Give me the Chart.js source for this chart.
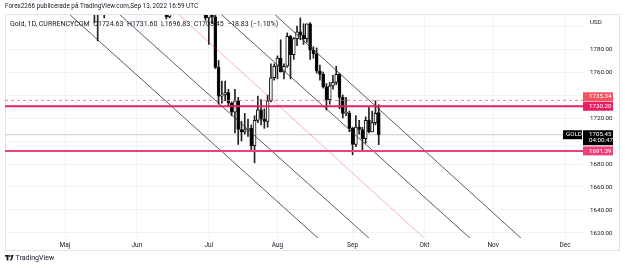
<!DOCTYPE html>
<html>
<head>
<meta charset="utf-8">
<script src="https://cdn.jsdelivr.net/npm/chart.js@4.4.0/dist/chart.umd.min.js"></script>
<style>
  body { margin: 0; background: #fff; font-family: Roboto, sans-serif; color: #131722; }
  #wrap { position: relative; width: 625px; height: 270px; overflow: hidden; }
  canvas { position: absolute; left: 0; top: 0; }
  .txt { position: absolute; white-space: nowrap; font-size: 6.4px; line-height: 8px; }
  #legend { font-size: 7px; }
  #legend span { margin-right: 3.5px; }
</style>
</head>
<body>
<div id="wrap">
  <canvas id="chart" width="625" height="270"></canvas>
  <div class="txt" style="left:5px; top:2px;">Forex2266 publicerade på TradingView.com,Sep 13, 2022 16:59 UTC</div>
  <div class="txt" id="legend" style="left:10px; top:20px;">
    <span>Gold, 1D, CURRENCYCOM</span><span>O1724.63</span><span>H1731.60</span><span>L1696.83</span><span>C1705.45</span><span>−18.83 (−1.10%)</span>
  </div>
  <div class="txt" style="left:5px; top:254px; font-size:7px;">
    <svg width="9" height="6" viewBox="0 0 9 6" style="vertical-align:-1px"><rect x="0" y="0" width="3.6" height="1.6" fill="#131722"/><rect x="1.6" y="0" width="1.8" height="5.5" fill="#131722"/><circle cx="4.6" cy="1" r="0.9" fill="#131722"/><polygon points="6,0 8.6,0 6.6,5.5 5,5.5 6.2,2.2" fill="#131722"/></svg>
    TradingView
  </div>
</div>
<script>
// trading days 2022-05-02 .. 2022-09-13 (index 0 = 2 May)
var open = [1896,1862,1868,1881,1876,1883,1854,1838,1852,1822,1811,1824,1815,1816,1842,1846,1853,1866,1853,1851,1853,1855,
  1837,1847,1869,1851,1841,1852,1853,1848,1871,1819,1808,1834,1850,1840,1839,1832,1838,1823,1827,1823,1820,1817,
  1807,1811,1808,1764,1739,1740,1742,1733,1725,1735,1710,1708,1710,1711,1696,1718,1727,1719,1717,1735,1755,
  1765,1772,1760,1765,1791,1775,1789,1795,1792,1789,1802,1779,1776,1761,1758,1747,1736,1748,1751,1758,1738,1724,1724,
  1711,1697,1712,1710,1702,1718,1708,1716,1724.63];
var high = [1896,1873,1884,1909,1889,1886,1859,1858,1858,1826,1825,1836,1823,1849,1849,1865,1869,1868,1858,1858,1860,1857,
  1849,1874,1874,1857,1856,1860,1857,1876,1878,1833,1842,1857,1857,1846,1847,1847,1840,1831,1834,1830,1829,1829,
  1813,1815,1812,1770,1752,1752,1745,1734,1745,1738,1717,1724,1719,1714,1722,1739,1736,1728,1740,1767,1767,
  1774,1788,1767,1794,1792,1790,1800,1807,1802,1802,1803,1782,1781,1766,1760,1750,1751,1757,1765,1759,1740,1738,1726,
  1712,1722,1718,1712,1721,1729,1726,1735,1731.60];
var low = [1850,1850,1865,1867,1872,1850,1832,1836,1812,1803,1787,1811,1807,1813,1835,1842,1849,1845,1844,1846,1850,1831,
  1828,1844,1848,1836,1837,1845,1843,1826,1815,1806,1807,1812,1832,1834,1830,1827,1818,1817,1820,1818,1814,1805,
  1784,1802,1763,1732,1733,1735,1730,1722,1707,1697,1700,1706,1704,1692,1681,1716,1714,1711,1712,1734,1753,
  1754,1760,1754,1764,1754,1771,1783,1788,1784,1786,1771,1772,1759,1753,1746,1727,1732,1745,1749,1728,1720,1722,1708,
  1688,1695,1706,1691,1698,1707,1708,1714,1696.83];
var close = [1862,1868,1881,1876,1883,1854,1838,1852,1822,1811,1824,1815,1816,1842,1846,1853,1866,1853,1851,1853,1855,1837,
  1847,1869,1851,1841,1852,1853,1848,1871,1819,1808,1834,1850,1840,1839,1832,1838,1823,1827,1823,1820,1817,1807,
  1811,1808,1764,1739,1739,1742,1733,1725,1735,1710,1708,1710,1711,1696,1718,1727,1719,1717,1735,1755,1765,
  1772,1760,1765,1791,1775,1789,1795,1792,1789,1802,1779,1776,1761,1758,1747,1736,1748,1751,1758,1738,1724,1724,1711,
  1697,1712,1710,1702,1718,1708,1716,1724,1705.45];

var monthIdx = [0, 22, 44, 65, 88, 110, 131, 153];
var monthLabels = ['Maj', 'Jun', 'Jul', 'Aug', 'Sep', 'Okt', 'Nov', 'Dec'];
var priceTicks = [1620, 1640, 1660, 1680, 1700, 1720, 1740, 1760, 1780, 1800];
var hiddenTicks = [1700, 1740, 1800];

// horizontal levels: alert/dashed, resistance, last price, support
var levelValues = [1735.34, 1730.20, 1705.45, 1691.39];

// trend lines in (bar index, price)
var trendX0 = [0.9, 16.2, 47.7, 64.0];
var trendX1 = [77.7, 93.3, 124.2, 139.8];
var trendY0 = [1811.3, 1811.3, 1810.4, 1810.4];
var trendY1 = [1614.8, 1614.8, 1614.8, 1614.8];
var pinkLine = [[34.6, 1810.4], [110.5, 1613.9]];

var xMin = -18.36, xMax = 158.5;
var yMin = 1615.65, yMax = 1809.57;

var bodies = open.map(function (o, i) { return { x: i, y: [o, close[i]] }; });
var wicks = open.map(function (o, i) { return { x: i, y: [low[i], high[i]] }; });
var bodyFill = open.map(function (o, i) { return close[i] >= o ? '#ffffff' : '#000000'; });

var datasets = [];
trendX0.forEach(function (x0, i) {
  datasets.push({ type: 'line', data: [{ x: x0, y: trendY0[i] }, { x: trendX1[i], y: trendY1[i] }],
    borderColor: 'rgba(40,40,40,0.75)', borderWidth: 1, pointRadius: 0, order: -1, clip: 0 });
});
datasets.push({ type: 'line', data: pinkLine.map(function (p) { return { x: p[0], y: p[1] }; }),
  borderColor: 'rgba(233,30,99,0.35)', borderWidth: 1, pointRadius: 0, order: -1, clip: 0 });

var levelStyle = [
  { color: 'rgba(247,82,95,0.75)', width: 1, dash: [3, 3] },
  { color: '#e91e63', width: 2, dash: [] },
  { color: '#c8cad0', width: 1, dash: [] },
  { color: '#ec407a', width: 2, dash: [] }
];
levelValues.forEach(function (v, i) {
  datasets.push({ type: 'line', data: [{ x: xMin, y: v }, { x: xMax, y: v }],
    borderColor: levelStyle[i].color, borderWidth: levelStyle[i].width, borderDash: levelStyle[i].dash,
    pointRadius: 0, order: i == 2 ? 3 : -2, clip: 0 });
});

datasets.push({ type: 'bar', data: bodies, barThickness: 3, grouped: false, backgroundColor: bodyFill,
  borderColor: '#111', borderWidth: 1, borderSkipped: false, minBarLength: 1, order: 0 });
datasets.push({ type: 'bar', data: wicks, barThickness: 1, grouped: false, backgroundColor: '#222',
  borderWidth: 0, order: 1 });

var tagPlugin = {
  id: 'tags',
  beforeDraw: function (chart) {
    var c = chart.ctx;
    c.save();
    c.strokeStyle = '#e0e3eb';
    c.lineWidth = 1;
    c.strokeRect(5.5, 14.5, 614, 236);
    c.restore();
  },
  afterDraw: function (chart) {
    var c = chart.ctx, ys = chart.scales.y;
    var left = chart.chartArea.right;
    c.save();
    c.font = '6.2px Roboto';
    c.textBaseline = 'middle';
    c.fillStyle = '#131722';
    c.fillText('USD', 590, 22);
    function tag(x, y, w, h, bg, lines) {
      c.fillStyle = bg;
      c.fillRect(x, y, w, h);
      c.fillStyle = '#fff';
      lines.forEach(function (t, k) { c.fillText(t, x + 6, y + 4.6 + k * 6); });
    }
    var y1 = ys.getPixelForValue(levelValues[1]);
    var y2 = ys.getPixelForValue(levelValues[2]);
    var y3 = ys.getPixelForValue(levelValues[3]);
    tag(left, y1 - 4.5 - 9.5, 30, 9, '#f7525f', [levelValues[0].toFixed(2)]);
    tag(left, y1 - 4.5, 30, 9, '#e91e63', [levelValues[1].toFixed(2)]);
    tag(left, y2 - 4.5, 30, 15, '#000', [levelValues[2].toFixed(2), '04:00:47']);
    c.fillStyle = '#000';
    c.fillRect(left - 20, y2 - 4.5, 19, 9);
    c.fillStyle = '#fff';
    c.fillText('GOLD', left - 17, y2 + 0.1);
    tag(left, y3 - 4.5, 30, 9, '#ec407a', [levelValues[3].toFixed(2)]);
    c.restore();
  }
};

new Chart(document.getElementById('chart'), {
  type: 'bar',
  data: { datasets: datasets },
  options: {
    responsive: false,
    animation: false,
    devicePixelRatio: 1,
    layout: { padding: { left: 5, top: 15, right: 6, bottom: 20 } },
    plugins: { legend: { display: false }, tooltip: { enabled: false } },
    scales: {
      x: {
        type: 'linear', min: xMin, max: xMax, offset: false,
        grid: { color: '#f0f3fa', drawTicks: false, offset: false },
        border: { display: false },
        afterBuildTicks: function (s) { s.ticks = monthIdx.map(function (v) { return { value: v }; }); },
        ticks: {
          autoSkip: false, maxRotation: 0, padding: 3, color: '#131722',
          font: { family: 'Roboto', size: 6.5 },
          callback: function (v) { return monthLabels[monthIdx.indexOf(v)]; }
        },
        afterFit: function (s) { s.height = 12; }
      },
      y: {
        type: 'linear', position: 'right', min: yMin, max: yMax,
        grid: { color: '#f0f3fa', drawTicks: false },
        border: { display: false },
        afterBuildTicks: function (s) { s.ticks = priceTicks.map(function (v) { return { value: v }; }); },
        ticks: {
          padding: 7, color: '#131722',
          font: { family: 'Roboto', size: 6.2 },
          callback: function (v) { return hiddenTicks.indexOf(v) >= 0 ? '' : v.toFixed(2); }
        },
        afterFit: function (s) { s.width = 36; }
      }
    }
  },
  plugins: [tagPlugin]
});
</script>
</body>
</html>
